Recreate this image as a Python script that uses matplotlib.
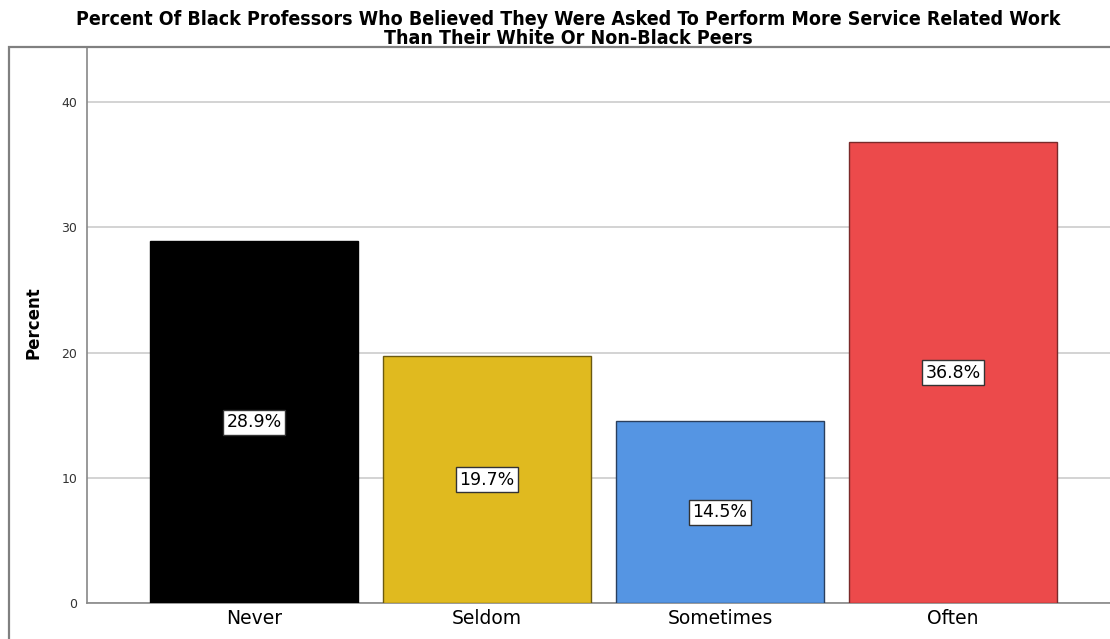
import numpy as np
import matplotlib.pyplot as plt
from matplotlib.patches import Rectangle

categories = ['Never', 'Seldom', 'Sometimes', 'Often']
percents = [28.9, 19.7, 14.5, 36.8]
colors = ['#000000', '#E0BA1F', '#5595E3', '#EC4A4B']
edges = ['#000000', '#6B5A10', '#2A3F5E', '#7A2A2A']
yticks = [0, 10, 20, 30, 40]
title = ('Percent Of Black Professors Who Believed They Were Asked To Perform More Service Related Work\n'
         'Than Their White Or Non-Black Peers')

W, H = 1110, 639
fig = plt.figure(figsize=(W / 100, H / 100), dpi=100)

# outer frame (cropped at right and bottom)
fig.patches.append(Rectangle((9 / W, -0.1), 1.2, (H - 47) / H + 0.1,
                             transform=fig.transFigure, fill=False,
                             edgecolor='#808080', linewidth=1.6))

# axes: left spine x=87, bottom y=603, top y=47, right beyond the image
left, right = 87 / W, 1120 / W
bottom, top = (H - 603) / H, (H - 47) / H
ax = fig.add_axes([left, bottom, right - left, top - bottom])

x = np.arange(len(categories))
ax.bar(x, percents, width=0.895, color=colors, edgecolor=edges, linewidth=1.0, zorder=3)
ax.set_xlim(-0.716, 3.716)
ax.set_ylim(0, 44.4)

ax.set_yticks(yticks)
ax.yaxis.grid(True, color='#D3D3D3', linewidth=1.4, zorder=0)
ax.set_axisbelow(True)
ax.tick_params(axis='y', length=0, labelsize=9, labelcolor='#333333', pad=7)
ax.tick_params(axis='x', length=0, labelsize=13.5, pad=4)
ax.set_xticks(x)
ax.set_xticklabels(categories)

for s in ['top', 'right']:
    ax.spines[s].set_visible(False)
ax.spines['left'].set_color('#888888')
ax.spines['bottom'].set_color('#888888')
ax.spines['left'].set_linewidth(1.2)
ax.spines['bottom'].set_linewidth(1.2)

for xi, v in zip(x, percents):
    ax.text(xi, v / 2, f'{v}%', ha='center', va='center', fontsize=12.5, zorder=5,
            bbox=dict(boxstyle='square,pad=0.2', facecolor='white',
                      edgecolor='#333333', linewidth=1.0))

fig.text(33 / W, (H - 323) / H, 'Percent', rotation=90, ha='center', va='center',
         fontsize=12, fontweight='bold')

t = fig.text(568 / W, (H - 29) / H, title, ha='center', va='center', fontsize=14,
             fontweight='bold', linespacing=0.95, fontstretch='condensed',
             family=['Liberation Sans Narrow', 'DejaVu Sans Condensed', 'DejaVu Sans'])
# shrink title to the reference width (about 1020 px)
fig.canvas.draw()
w = t.get_window_extent().width
if w > 1020:
    t.set_fontsize(14 * 1020 / w)

fig.savefig('out.png', dpi=100)
